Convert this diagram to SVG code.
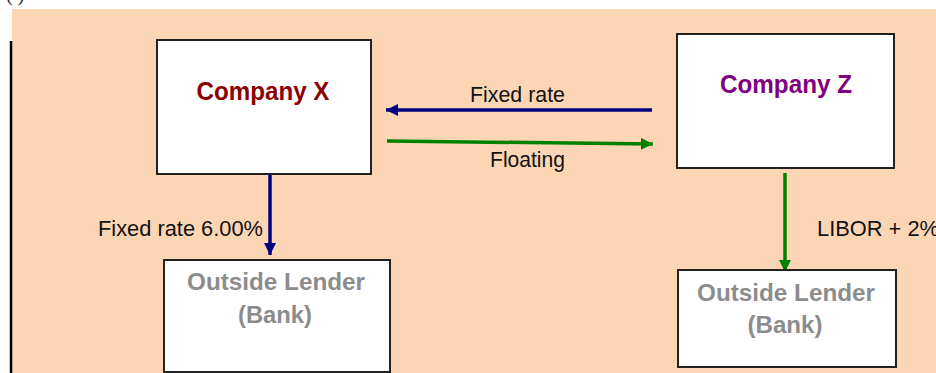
<svg xmlns="http://www.w3.org/2000/svg" width="936" height="373" viewBox="0 0 936 373">
<style>
.box{fill:#fff;stroke:#222;stroke-width:2}
.co{font-family:"Liberation Sans",Arial,sans-serif;font-weight:bold;font-size:26px;text-anchor:middle}
.lender{font-family:"Liberation Sans",Arial,sans-serif;font-weight:bold;font-size:24px;fill:#8c8c8c;text-anchor:middle}
.lbl{font-family:"Liberation Sans",Arial,sans-serif;font-size:22px;fill:#111}
.blue{stroke:#000080;stroke-width:3.5;fill:none}
.green{stroke:#008000;stroke-width:3.5;fill:none}
</style>
<defs>
<marker id="ab" viewBox="0 0 12 12" refX="12" refY="6" markerWidth="12" markerHeight="12" markerUnits="userSpaceOnUse" orient="auto"><path d="M0,0 L12,6 L0,12 z" fill="#000080"/></marker>
<marker id="ag" viewBox="0 0 12 12" refX="12" refY="6" markerWidth="12" markerHeight="12" markerUnits="userSpaceOnUse" orient="auto"><path d="M0,0 L12,6 L0,12 z" fill="#008000"/></marker>
</defs>
<rect x="0" y="0" width="936" height="373" fill="#fff"/>
<text x="6" y="1" font-family="'Liberation Serif',serif" font-size="20" fill="#222">( )</text>
<rect x="12" y="9" width="924" height="364" fill="#FCD5B5"/>
<line x1="11" y1="41" x2="11" y2="373" stroke="#000" stroke-width="2.5"/>
<g id="connectors">
<line class="blue" x1="652" y1="110" x2="386" y2="110" marker-end="url(#ab)"/>
<line class="green" x1="387" y1="141" x2="653" y2="144" marker-end="url(#ag)"/>
<line class="blue" x1="270" y1="175" x2="270" y2="255" marker-end="url(#ab)"/>
<line class="green" x1="785" y1="173" x2="785" y2="272" marker-end="url(#ag)"/>
<text class="lbl" x="470" y="102" textLength="95" lengthAdjust="spacingAndGlyphs">Fixed rate</text>
<text class="lbl" x="490" y="167" textLength="75" lengthAdjust="spacingAndGlyphs">Floating</text>
<text class="lbl" x="98" y="236" textLength="165" lengthAdjust="spacingAndGlyphs">Fixed rate  6.00%</text>
<text class="lbl" x="817" y="236" textLength="122" lengthAdjust="spacingAndGlyphs">LIBOR + 2%</text>
</g>
<g id="companyX">
<rect class="box" x="157" y="40" width="214" height="134"/>
<text class="co" x="263" y="100" fill="#8B0000" textLength="133" lengthAdjust="spacingAndGlyphs">Company X</text>
</g>
<g id="companyZ">
<rect class="box" x="677" y="34" width="217" height="134"/>
<text class="co" x="786" y="93" fill="#800080" textLength="132" lengthAdjust="spacingAndGlyphs">Company Z</text>
</g>
<g id="lenderX">
<rect class="box" x="164" y="260" width="226" height="112"/>
<text class="lender" x="276" y="290" textLength="178" lengthAdjust="spacingAndGlyphs">Outside Lender</text>
<text class="lender" x="275" y="323" textLength="74" lengthAdjust="spacingAndGlyphs">(Bank)</text>
</g>
<g id="lenderZ">
<rect class="box" x="678" y="270" width="218" height="97"/>
<text class="lender" x="786" y="301" textLength="178" lengthAdjust="spacingAndGlyphs">Outside Lender</text>
<text class="lender" x="785" y="333" textLength="75" lengthAdjust="spacingAndGlyphs">(Bank)</text>
</g>
</svg>
